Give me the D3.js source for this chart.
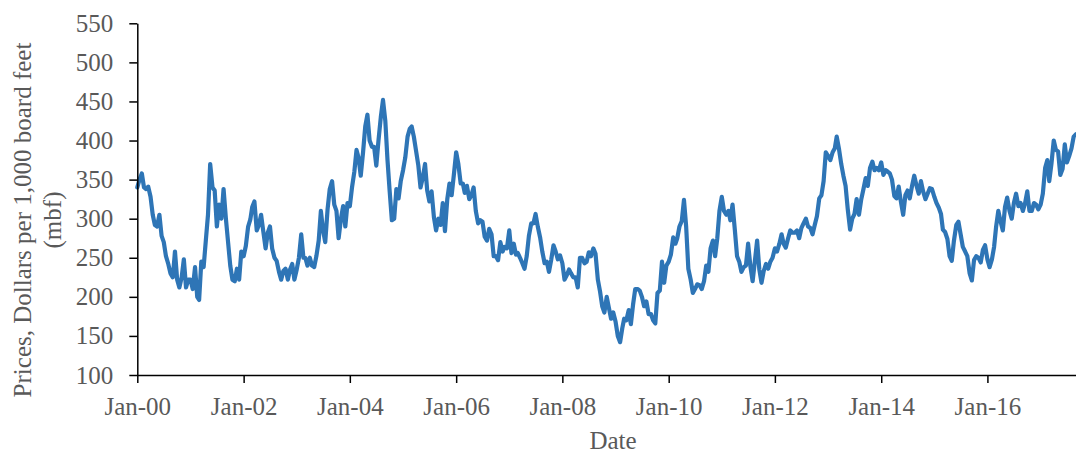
<!DOCTYPE html>
<html>
<head>
<meta charset="utf-8">
<script src="https://cdn.jsdelivr.net/npm/d3@7"></script>
<style>
  html, body { margin: 0; padding: 0; background: #fff; }
  svg { display: block; }
  .tick text { font-family: "Liberation Serif", "Times New Roman", serif; fill: #595959; }
</style>
</head>
<body>
<svg id="chart" width="1076" height="454"></svg>
<script>
// ---- Data (semi-monthly readings: 1st and 16th of each month, Jan 2000 – Sep 2017) ----
const seriesStart = "2000-01-01";
const prices2000 = [340,350,358,340,338,341,328,305,292,290,305,278,270,252,242,230,225,258,222,212,225,248,212,222];
const prices2001 = [222,210,238,200,196,245,238,272,305,370,340,336,290,318,300,338,300,270,240,222,220,236,222,258];
const prices2002 = [252,265,290,299,315,322,285,292,305,284,262,282,290,262,250,246,232,222,233,236,222,235,242,222];
const prices2003 = [235,250,280,250,250,240,250,240,238,252,272,310,285,270,312,338,348,318,310,275,300,316,290,320];
const prices2004 = [316,340,360,388,378,355,385,418,433,400,392,392,368,400,430,452,425,375,335,298,300,338,326,348];
const prices2005 = [362,378,405,415,418,405,386,368,340,352,370,336,322,335,302,285,300,292,320,284,325,345,330,356];
const prices2006 = [385,370,345,345,333,342,325,330,340,310,294,298,296,277,272,287,280,252,252,247,270,258,264,262];
const prices2007 = [285,256,268,254,256,250,243,236,252,278,294,294,306,290,276,258,243,245,232,247,266,258,248,253];
const prices2008 = [243,222,228,235,230,225,225,212,250,250,243,245,257,252,262,255,222,207,188,180,200,186,172,180];
const prices2009 = [168,150,142,160,172,170,183,165,190,210,210,208,200,188,194,178,178,170,166,205,208,245,218,240];
const prices2010 = [245,254,276,268,275,290,297,324,290,236,222,205,210,216,215,210,220,240,232,262,272,252,275,310];
const prices2011 = [328,310,305,310,298,318,285,252,245,232,238,240,268,240,220,245,272,235,218,233,242,236,245,250];
const prices2012 = [262,258,268,280,268,263,275,285,282,282,285,275,288,294,300,290,288,280,292,303,326,330,348,385];
const prices2013 = [380,375,385,390,405,390,370,355,342,312,286,300,306,325,305,324,338,352,342,365,373,362,365,362];
const prices2014 = [372,356,362,360,358,350,329,326,341,322,305,330,336,326,342,355,342,332,348,335,325,332,339,338];
const prices2015 = [328,320,314,306,286,283,274,252,246,272,292,296,280,264,258,252,230,221,247,252,250,244,260,266];
const prices2016 = [248,238,248,264,290,310,296,285,315,327,310,300,320,332,316,320,310,320,335,310,310,320,318,312];
const prices2017 = [318,332,365,375,348,370,400,388,386,356,364,395,372,380,390,405,408];

const yTicks = [100,150,200,250,300,350,400,450,500,550];
const xTickYears = [2000,2002,2004,2006,2008,2010,2012,2014,2016];
const xTickLabels = ["Jan-00","Jan-02","Jan-04","Jan-06","Jan-08","Jan-10","Jan-12","Jan-14","Jan-16"];
const yTitleLines = ["Prices, Dollars per 1,000 board feet", "(mbf)"];
const xTitle = "Date";

(function () {
// ---- Build series ----
const prices = [].concat(prices2000,prices2001,prices2002,prices2003,prices2004,prices2005,
  prices2006,prices2007,prices2008,prices2009,prices2010,prices2011,prices2012,prices2013,
  prices2014,prices2015,prices2016,prices2017);
const start = new Date(seriesStart + "T00:00:00");
const data = prices.map((v, i) => ({
  date: new Date(start.getFullYear(), start.getMonth() + Math.floor(i / 2), i % 2 ? 16 : 1),
  value: v
}));

// ---- Layout ----
const mLeft = 137.3, mRight = 1076, mTop = 23.3, mBottom = 375;
const svg = d3.select("#chart");

const x = d3.scaleTime()
  .domain([new Date(2000, 0, 1), data[data.length - 1].date])
  .range([mLeft, mRight]);
const y = d3.scaleLinear().domain([100, 550]).range([mBottom, mTop]);

const FONT = 25;
const FAMILY = '"Liberation Serif", "Times New Roman", serif';

// Line
svg.append("path")
  .datum(data)
  .attr("fill", "none")
  .attr("stroke", "#2E75B6")
  .attr("stroke-width", 4.2)
  .attr("stroke-linejoin", "round")
  .attr("stroke-linecap", "round")
  .attr("d", d3.line().x(d => x(d.date)).y(d => y(d.value)));

// Y axis
const yAxis = svg.append("g")
  .attr("transform", `translate(${mLeft},0)`)
  .call(d3.axisLeft(y).tickValues(yTicks).tickSize(8).tickSizeOuter(0).tickPadding(16));
yAxis.selectAll(".tick text").style("font-size", FONT + "px");

// X axis
const xTickDates = xTickYears.map(yr => new Date(yr, 0, 1));
const xAxis = svg.append("g")
  .attr("transform", `translate(0,${mBottom})`)
  .call(d3.axisBottom(x).tickValues(xTickDates).tickSize(8).tickSizeOuter(0).tickPadding(14)
    .tickFormat((d, i) => xTickLabels[i]));
xAxis.selectAll(".tick text").style("font-size", FONT + "px");

[yAxis, xAxis].forEach(g => {
  g.select(".domain").attr("stroke", "#000").attr("stroke-width", 1.5);
  g.selectAll(".tick line").attr("stroke", "#000").attr("stroke-width", 1.5);
});

// X title
svg.append("text")
  .attr("x", 613).attr("y", 449)
  .attr("text-anchor", "middle")
  .style("font-family", FAMILY)
  .style("font-size", FONT + "px")
  .style("fill", "#595959")
  .text(xTitle);

// Y title (two lines, rotated)
const yt = svg.append("text")
  .attr("transform", "translate(31,220) rotate(-90)")
  .attr("text-anchor", "middle")
  .style("font-family", FAMILY)
  .style("font-size", FONT + "px")
  .style("fill", "#595959");
yTitleLines.forEach((t, i) => {
  yt.append("tspan").attr("x", 0).attr("dy", i === 0 ? 0 : 30).text(t);
});
})();
</script>
</body>
</html>
